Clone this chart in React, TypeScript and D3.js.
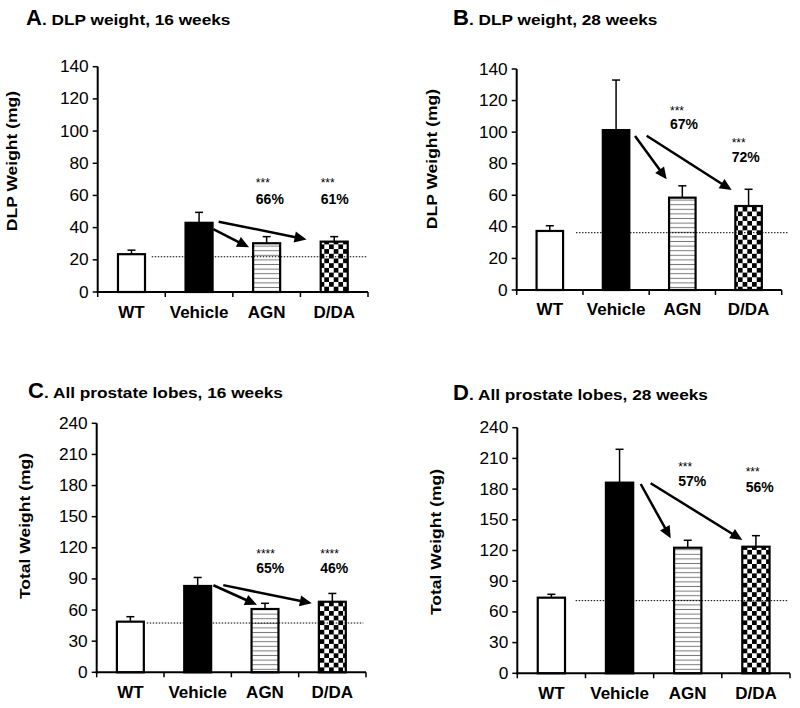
import React from 'react';
import * as d3 from 'd3';

// ---------- DATA ----------
const categories = ['WT', 'Vehicle', 'AGN', 'D/DA'];
const fills = ['white', 'black', 'url(#hlines)', 'url(#checker)'];

// Panel A: DLP weight, 16 weeks
const valuesA = [23.5, 43, 30.3, 31.3];
const errorsA = [2.5, 6.5, 4.1, 3.1];
const refA = 21.9;
// Panel B: DLP weight, 28 weeks
const valuesB = [37.4, 101.3, 58.5, 53.2];
const errorsB = [3.3, 31.7, 7.5, 10.6];
const refB = 36.3;
// Panel C: All prostate lobes, 16 weeks
const valuesC = [48.8, 83.2, 61, 68];
const errorsC = [4.8, 8.2, 5.5, 8];
const refC = 47.5;
// Panel D: All prostate lobes, 28 weeks
const valuesD = [73.9, 186.3, 122.7, 123.7];
const errorsD = [3.3, 32.6, 7.3, 10.8];
const refD = 71;

const ticksDLP = [0, 20, 40, 60, 80, 100, 120, 140];
const ticksTotal = [0, 30, 60, 90, 120, 150, 180, 210, 240];

const titleLetters = ['A', 'B', 'C', 'D'];
const titleTexts = ['. DLP weight, 16 weeks', '. DLP weight, 28 weeks', '. All prostate lobes, 16 weeks', '. All prostate lobes, 28 weeks'];
const yLabels = ['DLP Weight (mg)', 'DLP Weight (mg)', 'Total Weight (mg)', 'Total Weight (mg)'];

// annotations: [category position, star value, pct value, stars, pct]
const notesA = [[1.84, 65, 54.5, '***', '66%'], [2.8, 65, 54.5, '***', '61%']];
const notesB = [[1.814, 111.1, 102, '***', '67%'], [2.745, 90.5, 80.9, '***', '72%']];
const notesC = [[1.87, 109.8, 95.4, '****', '65%'], [2.82, 109.8, 95.4, '****', '46%']];
const notesD = [[1.86, 197.5, 183.3, '***', '57%'], [2.85, 192.6, 177.5, '***', '56%']];

// arrows: [[fromPos, fromVal], [toPos, toVal]]
const arrowsA = [[[1.21, 39], [1.74, 27.8]], [[1.29, 43.7], [2.59, 32.7]]];
const arrowsB = [[[1.286, 97.5], [1.764, 70.1]], [[1.462, 97.7], [2.745, 63.3]]];
const arrowsC = [[[1.233, 83.9], [1.88, 65]], [[1.38, 84], [2.695, 66.5]]];
const arrowsD = [[[1.31, 185], [1.75, 132]], [[1.456, 185.7], [2.8, 130.3]]];

// reference line extents in category positions
const refExtA = [0.3, 3.48];
const refExtB = [0.395, 3.6];
const refExtC = [0.243, 3.46];
const refExtD = [0.356, 3.48];

// ---------- LAYOUT ----------
const layouts = [
  { x0: 97.7, x1: 368, yTop: 66.7, yBot: 292, titleX: 26, titleY: 25, ylx: 17, yly: 161, xlY: 318 },
  { x0: 516.7, x1: 781.7, yTop: 69, yBot: 290, titleX: 453, titleY: 25, ylx: 437, yly: 159, xlY: 315 },
  { x0: 96.7, x1: 366, yTop: 423.3, yBot: 672.3, titleX: 28, titleY: 398, ylx: 30, yly: 526, xlY: 698 },
  { x0: 517.3, x1: 790, yTop: 427.7, yBot: 673.3, titleX: 453, titleY: 400, ylx: 441, yly: 542, xlY: 699 },
];

const panels = [
  { values: valuesA, errors: errorsA, ref: refA, ticks: ticksDLP, notes: notesA, arrows: arrowsA, refExt: refExtA },
  { values: valuesB, errors: errorsB, ref: refB, ticks: ticksDLP, notes: notesB, arrows: arrowsB, refExt: refExtB },
  { values: valuesC, errors: errorsC, ref: refC, ticks: ticksTotal, notes: notesC, arrows: arrowsC, refExt: refExtC },
  { values: valuesD, errors: errorsD, ref: refD, ticks: ticksTotal, notes: notesD, arrows: arrowsD, refExt: refExtD },
];

const FONT = 'Liberation Sans, Arial, Helvetica, sans-serif';

function T({ x, y, rot = 0, sx = 1, children, ...rest }: any) {
  return (
    <g transform={`translate(${x},${y}) rotate(${rot})`}>
      <text transform={`scale(${sx},1)`} fontFamily={FONT} {...rest}>{children}</text>
    </g>
  );
}

function Panel({ idx }: { idx: number }) {
  const p = panels[idx];
  const L = layouts[idx];
  const xs = d3.scaleLinear().domain([-0.5, categories.length - 0.5]).range([L.x0, L.x1]);
  const ymax = p.ticks[p.ticks.length - 1];
  const ys = d3.scaleLinear().domain([0, ymax]).range([L.yBot, L.yTop]);
  const step = xs(1) - xs(0);
  const bw = step * 0.4;
  return (
    <g>
      {/* title */}
      <T x={L.titleX} y={L.titleY} fontSize={22} fontWeight="bold">{titleLetters[idx]}</T>
      <T x={L.titleX + 16} y={L.titleY} fontSize={15} fontWeight="bold" sx={1.15}>{titleTexts[idx]}</T>
      {/* y label */}
      <T x={L.ylx} y={L.yly} rot={-90} fontSize={15.5} fontWeight="bold" sx={1.13} textAnchor="middle">{yLabels[idx]}</T>
      {/* bars */}
      {categories.map((c, i) => {
        const top = ys(p.values[i]);
        const etop = ys(p.values[i] + p.errors[i]);
        const cx = xs(i);
        return (
          <g key={c}>
            <line x1={cx} x2={cx} y1={top} y2={etop} stroke="black" strokeWidth={1.5} />
            <line x1={cx - 4} x2={cx + 4} y1={etop} y2={etop} stroke="black" strokeWidth={1.5} />
            <rect x={cx - bw / 2} y={top} width={bw} height={L.yBot - top} fill={fills[i]} stroke="black" strokeWidth={2.2} />
          </g>
        );
      })}
      {/* reference dotted line, drawn over the bars */}
      <line x1={xs(p.refExt[0])} x2={xs(p.refExt[1])} y1={ys(p.ref)} y2={ys(p.ref)} stroke="black" strokeWidth={1} strokeDasharray="1.5 1.5" />
      {/* axes */}
      <line x1={L.x0} x2={L.x0} y1={L.yBot + 1} y2={L.yTop} stroke="black" strokeWidth={2} />
      <line x1={L.x0 - 1} x2={L.x1} y1={L.yBot} y2={L.yBot} stroke="black" strokeWidth={2} />
      {p.ticks.map((t) => (
        <g key={t}>
          <line x1={L.x0 - 5} x2={L.x0} y1={ys(t)} y2={ys(t)} stroke="black" strokeWidth={1.5} />
          <T x={L.x0 - 9} y={ys(t) + 5.5} fontSize={16} sx={1.08} textAnchor="end">{t}</T>
        </g>
      ))}
      {d3.range(categories.length + 1).map((k) => (
        <line key={k} x1={xs(k - 0.5)} x2={xs(k - 0.5)} y1={L.yBot} y2={L.yBot + 5} stroke="black" strokeWidth={1.5} />
      ))}
      {categories.map((c, i) => (
        <T key={c} x={xs(i)} y={L.xlY} fontSize={17} fontWeight="bold" textAnchor="middle">{c}</T>
      ))}
      {/* annotations */}
      {p.notes.map((n: any, k: number) => (
        <g key={k}>
          <T x={xs(n[0])} y={ys(n[1])} fontSize={12}>{n[3]}</T>
          <T x={xs(n[0])} y={ys(n[2])} fontSize={14} fontWeight="bold">{n[4]}</T>
        </g>
      ))}
      {/* arrows */}
      {p.arrows.map((a: any, k: number) => {
        const x1 = xs(a[0][0]), y1 = ys(a[0][1]);
        const x2 = xs(a[1][0]), y2 = ys(a[1][1]);
        const len = Math.hypot(x2 - x1, y2 - y1);
        const ux = (x2 - x1) / len, uy = (y2 - y1) / len;
        const head = 12, half = 5.5;
        const bx = x2 - ux * head, by = y2 - uy * head;
        const pts = `${x2},${y2} ${bx - uy * half},${by + ux * half} ${bx + uy * half},${by - ux * half}`;
        return (
          <g key={k}>
            <line x1={x1} y1={y1} x2={bx + ux * 2} y2={by + uy * 2} stroke="black" strokeWidth={2.5} />
            <polygon points={pts} fill="black" />
          </g>
        );
      })}
    </g>
  );
}

export default function App() {
  return (
    <svg width={800} height={708} style={{ position: 'absolute', left: 0, top: 0, background: 'white' }}>
      <defs>
        <pattern id="hlines" patternUnits="userSpaceOnUse" width={6} height={4.6}>
          <rect width={6} height={4.6} fill="white" />
          <line x1={0} x2={6} y1={2.3} y2={2.3} stroke="#7a7a7a" strokeWidth={1} />
        </pattern>
        <pattern id="checker" patternUnits="userSpaceOnUse" width={9.4} height={9.4}>
          <rect width={9.4} height={9.4} fill="white" />
          <rect width={4.7} height={4.7} fill="black" />
          <rect x={4.7} y={4.7} width={4.7} height={4.7} fill="black" />
        </pattern>
      </defs>
      <rect width={800} height={708} fill="white" />
      {[0, 1, 2, 3].map((i) => <Panel key={i} idx={i} />)}
    </svg>
  );
}
